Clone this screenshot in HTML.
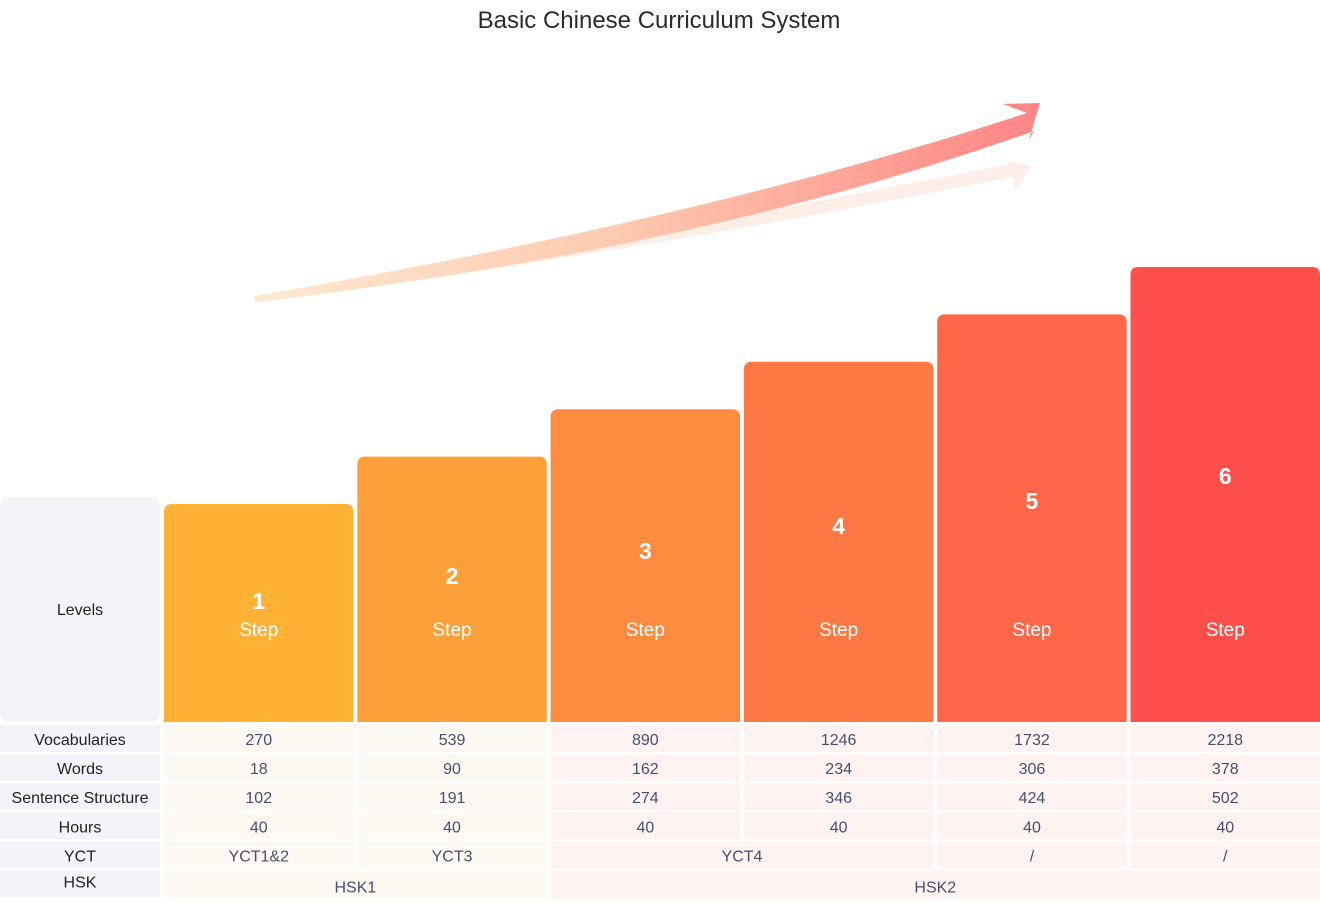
<!DOCTYPE html>
<html><head><meta charset="utf-8"><style>
body{margin:0;background:#fff;}
svg text{font-family:"Liberation Sans",sans-serif;}
</style></head><body>
<svg id="c" width="1320" height="900" xmlns="http://www.w3.org/2000/svg">
<defs>
<linearGradient id="ag" x1="254" y1="0" x2="1040" y2="0" gradientUnits="userSpaceOnUse">
<stop offset="0" stop-color="#fde9d2"/><stop offset="0.45" stop-color="#fdcbb0"/><stop offset="1" stop-color="#ff8585"/></linearGradient>
<linearGradient id="ag2" x1="254" y1="0" x2="1040" y2="0" gradientUnits="userSpaceOnUse">
<stop offset="0" stop-color="#fdf0e2"/><stop offset="1" stop-color="#fdeeea"/></linearGradient>
</defs>
<text x="659" y="28" text-anchor="middle" font-size="24" fill="#2b2b2b">Basic Chinese Curriculum System</text>
<path d="M255,301 Q650,235 1010,164 L1004,160 L1032,166 L1015,190 L1012,177 Q650,250 255,303 Z" fill="url(#ag2)"/>
<path d="M254,296 Q700,220 1027,113 L1003,104 L1040,103 L1029,140 L1034,131 Q700,250 256,302 Z" fill="url(#ag)"/>
<g id="g"></g>
</svg>
<script>
const levels=["1","2","3","4","5","6"];
const barValues=[1,2,3,4,5,6];
const rowLabels=["Vocabularies","Words","Sentence Structure","Hours"];
const vocab=[270,539,890,1246,1732,2218];
const words=[18,90,162,234,306,378];
const sentences=[102,191,274,346,424,502];
const hours=[40,40,40,40,40,40];
const yct=["YCT1&2","YCT3","YCT4","YCT4","/","/"];
const hsk=["HSK1","HSK1","HSK2","HSK2","HSK2","HSK2"];
const colors=["#ffb236","#fda03a","#fd8b40","#fd7843","#ff6749","#ff4f4a"];
const NS="http://www.w3.org/2000/svg";
const g=document.getElementById('g');
function mk(t,a,p){const e=document.createElementNS(NS,t);for(const k in a)e.setAttribute(k,a[k]);(p||g).appendChild(e);return e;}
const colX=i=>164+i*193.3, colW=189.5;
const base=722;
const yS=v=>base-(218+(v-1)*47.4);
// label column
let r=mk('rect',{x:0,y:497,width:160,height:225,rx:10,fill:'#f3f4f9'});


let t=mk('text',{x:80,y:615,'text-anchor':'middle','font-size':16,fill:'#222'});t.textContent='Levels';


barValues.forEach((v,i)=>{
 const top=yS(v);
 const b=mk('path',{d:`M${colX(i)},${base} V${top+8} Q${colX(i)},${top} ${colX(i)+8},${top} H${colX(i)+colW-8} Q${colX(i)+colW},${top} ${colX(i)+colW},${top+8} V${base} Z`,fill:colors[i]});
 
 
 const n=mk('text',{x:colX(i)+colW/2,y:609-i*25,'text-anchor':'middle','font-size':23,'font-weight':'bold',fill:'#fff'});n.textContent=levels[i];
 
 
 const s=mk('text',{x:colX(i)+colW/2,y:636,'text-anchor':'middle','font-size':19,fill:'#fff'});s.textContent='Step';
 
 
});
const rows=[vocab,words,sentences,hours];
const rowY=i=>725+i*29.1;
const cellBg=i=>i<2?'#fdf8f2':'#fef3f0';
function cell(x,y,w,txt,bg,col,name,bold){
 const rc=mk('rect',{x:x,y:y,width:w,height:27,fill:bg});
 
 
 const tx=mk('text',{x:x+w/2,y:y+20,'text-anchor':'middle','font-size':16,fill:col});tx.textContent=txt;
 if(bold)tx.setAttribute('font-weight','normal');
 
 
}
rows.forEach((arr,ri)=>{
 cell(0,rowY(ri),160,rowLabels[ri],'#f3f4f9','#222','row-label-'+ri);
 arr.forEach((v,i)=>cell(colX(i),rowY(ri),colW,String(v),cellBg(i),'#4a4e6e','value-r'+ri+'-c'+i));
});
// YCT row with merge
let y4=rowY(4);
cell(0,y4,160,'YCT','#f3f4f9','#222','row-label-yct');
for(let i=0;i<6;){let j=i;while(j+1<6&&yct[j+1]===yct[i]&&yct[i]!=='/')j++;
 cell(colX(i),y4,colX(j)+colW-colX(i),yct[i],cellBg(i),'#4a4e6e','yct-'+i);i=j+1;}
let y5=rowY(5);
const hr=mk('rect',{x:0,y:y5,width:160,height:27,fill:'#f3f4f9'});


const ht=mk('text',{x:80,y:y5+17,'text-anchor':'middle','font-size':16,fill:'#222'});ht.textContent='HSK';


for(let i=0;i<6;){let j=i;while(j+1<6&&hsk[j+1]===hsk[i])j++;
 const x=colX(i),w=colX(j)+colW-colX(i);
 const rc=mk('rect',{x:x,y:y5,width:w,height:28,fill:cellBg(i)});
 
 
 const tx=mk('text',{x:x+w/2,y:y5+22,'text-anchor':'middle','font-size':16,fill:'#4a4e6e'});tx.textContent=hsk[i];
 
 
 i=j+1;}
</script>
</body></html>
